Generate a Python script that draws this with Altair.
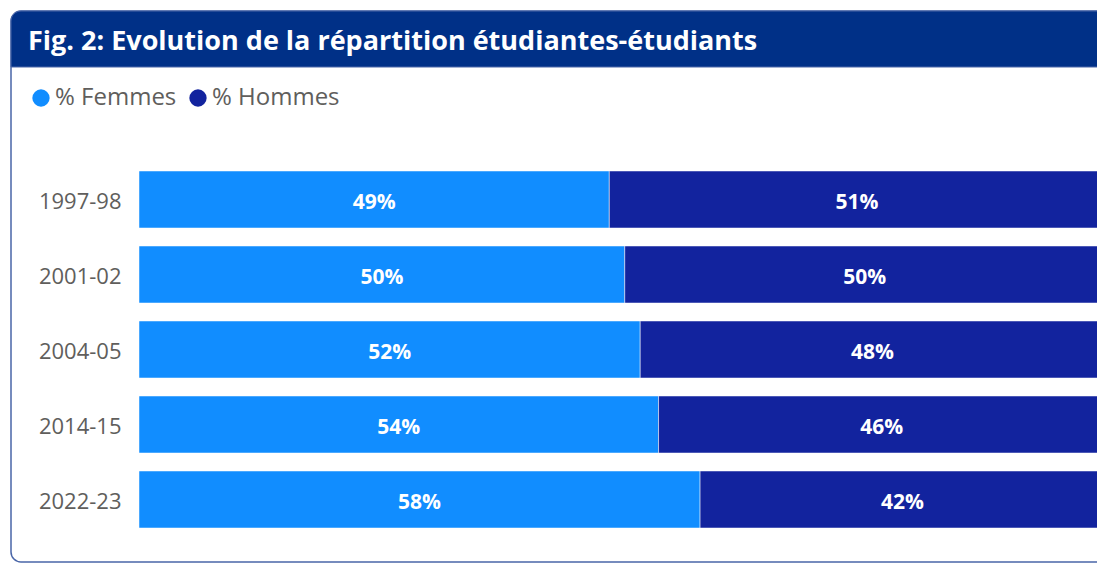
import altair as alt
import pandas as pd

# ---- data ----
years = ["1997-98", "2001-02", "2004-05", "2014-15", "2022-23"]
femmes = [48.7, 50.3, 51.9, 53.8, 58.1]
hommes = [51.3, 49.7, 48.1, 46.2, 41.9]
series = ["% Femmes", "% Hommes"]
colors = ["#118DFF", "#12239E"]
title_text = "Fig. 2: Evolution de la répartition étudiantes-étudiants"

FONT = "Open Sans"

rows = []
for i, y in enumerate(years):
    rows.append({"year": y, "sexe": series[0], "value": femmes[i], "ord": 0})
    rows.append({"year": y, "sexe": series[1], "value": hommes[i], "ord": 1})
df = pd.DataFrame(rows)

one = pd.DataFrame({"k": [0]})

card = alt.Chart(one).mark_rect(
    fill="white", stroke="#4A66A8", strokeWidth=1.5, cornerRadius=10
).encode(x=alt.value(-128), x2=alt.value(1000), y=alt.value(-151), y2=alt.value(400))

header = alt.Chart(one).mark_rect(
    fill="#003087", cornerRadiusTopLeft=10, stroke="#4A66A8", strokeWidth=1
).encode(x=alt.value(-128), x2=alt.value(1000), y=alt.value(-151), y2=alt.value(-95))

title = alt.Chart(one).mark_text(
    align="left", baseline="alphabetic", font=FONT, fontSize=27, fontWeight="bold", color="white"
).encode(x=alt.value(-111), y=alt.value(-112), text=alt.value(title_text))

base = alt.Chart(df).transform_stack(
    stack="value", groupby=["year"], as_=["x0", "x1"], sort=[alt.SortField("ord")]
).transform_calculate(
    mid="(datum.x0 + datum.x1) / 2",
    label="round(datum.value) + '%'"
)

yenc = alt.Y(
    "year:N", sort=years, title=None,
    scale=alt.Scale(paddingInner=0.24, paddingOuter=0.12),
    axis=alt.Axis(ticks=False, domain=False, grid=False, labelPadding=18, zindex=2,
                  labelOffset=2,
                  labelFont=FONT, labelFontSize=22, labelColor="#605E5C"),
)

bars = base.mark_bar(stroke="white", strokeWidth=0.5).encode(
    y=yenc,
    x=alt.X("x0:Q", scale=alt.Scale(domain=[0, 99.2], nice=False), axis=None),
    x2="x1:Q",
    color=alt.Color(
        "sexe:N",
        scale=alt.Scale(domain=series, range=colors),
        legend=alt.Legend(
            title=None, orient="none", direction="horizontal",
            legendX=-110, legendY=-76,
            symbolType="circle", symbolSize=300, symbolStrokeWidth=0,
            labelFont=FONT, labelFontSize=24, labelColor="#605E5C",
            labelOffset=2, columnPadding=9, zindex=2,
        ),
    ),
)

labels = base.mark_text(
    font=FONT, fontSize=21, fontWeight="bold", color="white", baseline="middle", dy=3
).encode(
    y=alt.Y("year:N", sort=years),
    x=alt.X("mid:Q"),
    text="label:N",
)

chart = alt.layer(card, header, title, bars, labels).properties(
    width=958, height=375,
    autosize=alt.AutoSizeParams(type="none"),
    padding={"left": 131, "top": 154, "right": 0, "bottom": 27},
).configure_view(stroke=None).configure(background="white")

chart.save("out.html", embed_options={"renderer": "svg", "actions": False})
